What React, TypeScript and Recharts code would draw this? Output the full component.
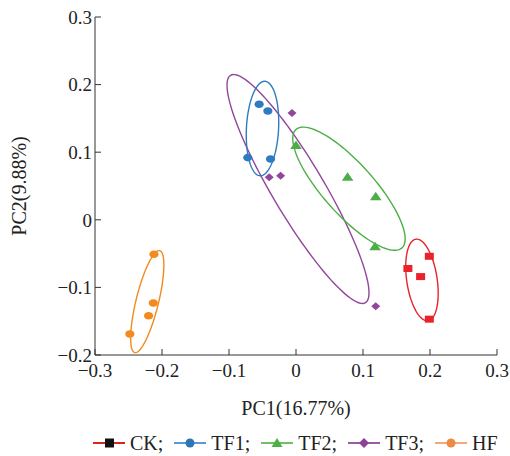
import React from 'react';
import { ScatterChart, Scatter, XAxis, YAxis } from 'recharts';

const xTicks = [-0.3, -0.2, -0.1, 0, 0.1, 0.2, 0.3];
const yTicks = [-0.2, -0.1, 0, 0.1, 0.2, 0.3];

// sample scores
const ckPoints = [
  { x: 0.199, y: -0.054 },
  { x: 0.167, y: -0.072 },
  { x: 0.186, y: -0.084 },
  { x: 0.199, y: -0.147 },
];
const tf1Points = [
  { x: -0.055, y: 0.171 },
  { x: -0.042, y: 0.161 },
  { x: -0.072, y: 0.092 },
  { x: -0.038, y: 0.09 },
];
const tf2Points = [
  { x: 0.0, y: 0.11 },
  { x: 0.077, y: 0.063 },
  { x: 0.119, y: 0.034 },
  { x: 0.118, y: -0.04 },
];
const tf3Points = [
  { x: -0.006, y: 0.158 },
  { x: -0.04, y: 0.063 },
  { x: -0.023, y: 0.065 },
  { x: 0.119, y: -0.128 },
];
const hfPoints = [
  { x: -0.212, y: -0.051 },
  { x: -0.213, y: -0.123 },
  { x: -0.22, y: -0.142 },
  { x: -0.248, y: -0.169 },
];

// confidence ellipses: centre, semi-axes (data units), rotation in degrees
const ckEllipse = { cx: 0.188, cy: -0.089, a: 0.061, b: 0.0227, angle: 98.6 };
const tf1Ellipse = { cx: -0.05, cy: 0.135, a: 0.07, b: 0.024, angle: 87 };
const tf2Ellipse = { cx: 0.079, cy: 0.046, a: 0.118, b: 0.0377, angle: 132.1 };
const tf3Ellipse = { cx: 0.003, cy: 0.0456, a: 0.196, b: 0.0386, angle: 120.9 };
const hfEllipse = { cx: -0.222, cy: -0.121, a: 0.0777, b: 0.0168, angle: 76.1 };

type Ellipse = { cx: number; cy: number; a: number; b: number; angle: number };

const outline = (e: Ellipse) => {
  const th = (e.angle * Math.PI) / 180;
  const pts = [];
  for (let i = 0; i <= 120; i++) {
    const t = (i / 120) * Math.PI * 2;
    const u = e.a * Math.cos(t);
    const v = e.b * Math.sin(t);
    pts.push({ x: e.cx + u * Math.cos(th) - v * Math.sin(th), y: e.cy + u * Math.sin(th) + v * Math.cos(th) });
  }
  return pts;
};

const FONT = '"Liberation Serif", "Times New Roman", serif';

const C = {
  ck: '#E8232B',
  tf1: '#2F7BC1',
  tf2: '#4DAE45',
  tf3: '#92469C',
  hf: '#F28A1E',
};

const Square = ({ cx, cy, fill }: any) => <rect x={cx - 4.5} y={cy - 3.5} width={9} height={7} fill={fill} />;
const Dot = ({ cx, cy, fill }: any) => <ellipse cx={cx} cy={cy} rx={4.6} ry={3.8} fill={fill} />;
const Tri = ({ cx, cy, fill }: any) => <polygon points={`${cx},${cy - 5} ${cx + 5.8},${cy + 3.5} ${cx - 5.8},${cy + 3.5}`} fill={fill} />;
const Diamond = ({ cx, cy, fill }: any) => <polygon points={`${cx},${cy - 4} ${cx + 4.5},${cy} ${cx},${cy + 4} ${cx - 4.5},${cy}`} fill={fill} />;
const NoDot = () => <g />;

const fmt = (v: number) => (v < 0 ? '\u2212' + Math.abs(v) : String(v));

const legendItems = [
  { name: 'CK;', line: '#D9261F', marker: '#111', shape: 'square' },
  { name: 'TF1;', line: '#5B9BD5', marker: '#2E75B6', shape: 'circle' },
  { name: 'TF2;', line: '#70BF64', marker: '#4CAF47', shape: 'triangle' },
  { name: 'TF3;', line: '#9B5AA6', marker: '#8E3F98', shape: 'diamond' },
  { name: 'HF', line: '#F4A97A', marker: '#ED8A45', shape: 'circle' },
];

const LegendMarker = ({ item }: any) => (
  <svg width={32} height={16} style={{ display: 'block' }}>
    <line x1={0} y1={8} x2={32} y2={8} stroke={item.line} strokeWidth={2} />
    {item.shape === 'square' && <rect x={12} y={3.5} width={9} height={9} fill={item.marker} />}
    {item.shape === 'circle' && <circle cx={16} cy={8} r={4.5} fill={item.marker} />}
    {item.shape === 'triangle' && <polygon points="16,3 21.5,12 10.5,12" fill={item.marker} />}
    {item.shape === 'diamond' && <polygon points="16,3 21,8 16,13 11,8" fill={item.marker} />}
  </svg>
);

export default function App() {
  return (
    <div style={{ position: 'absolute', left: 0, top: 0, width: 510, height: 456, background: '#fff' }}>
      <ScatterChart width={510} height={456} margin={{ top: 17, right: 13, bottom: 0, left: 0 }}>
        <XAxis
          type="number"
          dataKey="x"
          domain={[-0.3, 0.3]}
          ticks={xTicks}
          tickFormatter={fmt}
          height={101}
          stroke="#333"
          tickSize={-6}
          tickMargin={15}
          tick={{ fill: '#222', fontSize: 19, fontFamily: FONT }}
          label={{
            content: ({ viewBox }: any) => (
              <text x={viewBox.x + viewBox.width / 2} y={viewBox.y + 60} textAnchor="middle" fill="#222" fontSize={20} fontFamily={FONT}>
                PC1(16.77%)
              </text>
            ),
          }}
        />
        <YAxis
          type="number"
          dataKey="y"
          domain={[-0.2, 0.3]}
          ticks={yTicks}
          tickFormatter={fmt}
          width={95}
          stroke="#333"
          tickSize={-6}
          tickMargin={9}
          tick={{ fill: '#222', fontSize: 19, fontFamily: FONT }}
          label={{
            content: ({ viewBox }: any) => {
              const cy = viewBox.y + viewBox.height / 2;
              return (
                <text x={26} y={cy} transform={`rotate(-90, 26, ${cy})`} textAnchor="middle" fill="#222" fontSize={20} fontFamily={FONT}>
                  PC2(9.88%)
                </text>
              );
            },
          }}
        />
        <Scatter data={outline(tf3Ellipse)} line={{ stroke: C.tf3, strokeWidth: 1.4 }} lineType="joint" shape={NoDot} isAnimationActive={false} legendType="none" />
        <Scatter data={outline(tf2Ellipse)} line={{ stroke: C.tf2, strokeWidth: 1.4 }} lineType="joint" shape={NoDot} isAnimationActive={false} legendType="none" />
        <Scatter data={outline(tf1Ellipse)} line={{ stroke: C.tf1, strokeWidth: 1.4 }} lineType="joint" shape={NoDot} isAnimationActive={false} legendType="none" />
        <Scatter data={outline(ckEllipse)} line={{ stroke: C.ck, strokeWidth: 1.4 }} lineType="joint" shape={NoDot} isAnimationActive={false} legendType="none" />
        <Scatter data={outline(hfEllipse)} line={{ stroke: C.hf, strokeWidth: 1.4 }} lineType="joint" shape={NoDot} isAnimationActive={false} legendType="none" />
        <Scatter name="CK" data={ckPoints} fill={C.ck} shape={Square} isAnimationActive={false} />
        <Scatter name="TF1" data={tf1Points} fill={C.tf1} shape={Dot} isAnimationActive={false} />
        <Scatter name="TF2" data={tf2Points} fill={C.tf2} shape={Tri} isAnimationActive={false} />
        <Scatter name="TF3" data={tf3Points} fill={C.tf3} shape={Diamond} isAnimationActive={false} />
        <Scatter name="HF" data={hfPoints} fill={C.hf} shape={Dot} isAnimationActive={false} />
      </ScatterChart>
      <div
        style={{
          position: 'absolute',
          left: 93,
          top: 431,
          display: 'flex',
          alignItems: 'center',
          gap: 11,
          fontFamily: FONT,
          fontSize: 20,
          color: '#222',
          lineHeight: '24px',
        }}
      >
        {legendItems.map((it) => (
          <div key={it.name} style={{ display: 'flex', alignItems: 'center', gap: 5 }}>
            <LegendMarker item={it} />
            <span>{it.name}</span>
          </div>
        ))}
      </div>
    </div>
  );
}
